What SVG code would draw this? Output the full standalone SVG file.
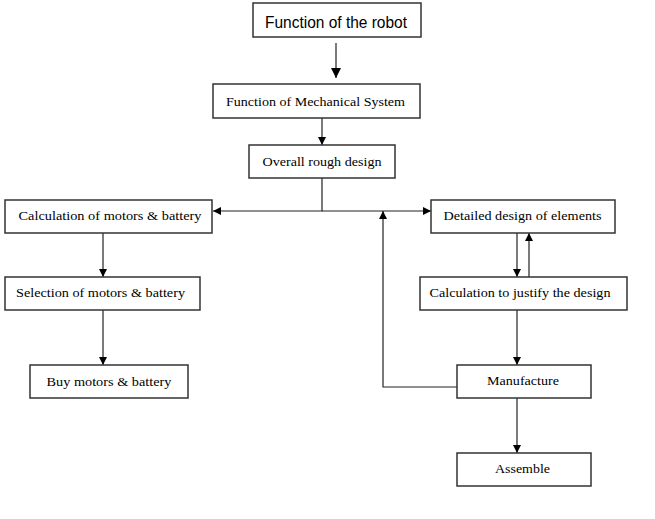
<svg xmlns="http://www.w3.org/2000/svg" width="655" height="519" viewBox="0 0 655 519">
<defs>
<marker id="ah" viewBox="0 0 10 10" refX="10" refY="5" markerWidth="8" markerHeight="8" markerUnits="userSpaceOnUse" orient="auto">
<path d="M0,0 L10,5 L0,10 z" fill="#000"/>
</marker>
<marker id="ahL" viewBox="0 0 10 10" refX="10" refY="5" markerWidth="10" markerHeight="10" markerUnits="userSpaceOnUse" orient="auto">
<path d="M0,0 L10,5 L0,10 z" fill="#000"/>
</marker>
</defs>
<style>
.box{fill:#fff;stroke:#333;stroke-width:1.5}
.t{font-family:"Liberation Serif","Times New Roman",serif;font-size:13px;fill:#000;text-anchor:middle}
.ts{font-family:"Liberation Sans",Arial,sans-serif;font-size:16px;fill:#000;text-anchor:middle}
.c{fill:none;stroke:#222;stroke-width:1.2}
</style>
<rect width="655" height="519" fill="#fff"/>
<g id="connectors">
<line class="c" x1="336" y1="43" x2="336" y2="78" marker-end="url(#ahL)"/>
<line class="c" x1="322" y1="118" x2="322" y2="145" marker-end="url(#ah)"/>
<polyline class="c" points="322,178 322,211 213,211" marker-end="url(#ah)"/>
<line class="c" x1="322" y1="211" x2="431" y2="211" marker-end="url(#ah)"/>
<line class="c" x1="103" y1="233" x2="103" y2="277" marker-end="url(#ah)"/>
<line class="c" x1="103" y1="310" x2="103" y2="365" marker-end="url(#ah)"/>
<line class="c" x1="517" y1="233" x2="517" y2="277" marker-end="url(#ah)"/>
<line class="c" x1="529" y1="277" x2="529" y2="233" marker-end="url(#ah)"/>
<line class="c" x1="517" y1="310" x2="517" y2="365" marker-end="url(#ah)"/>
<polyline class="c" points="457,387 383,387 383,211" marker-end="url(#ah)"/>
<line class="c" x1="517" y1="398" x2="517" y2="453" marker-end="url(#ah)"/>
</g>
<g id="n1"><rect class="box" x="253" y="3" width="168" height="34"/><text class="ts" x="336" y="28" textLength="142" lengthAdjust="spacingAndGlyphs">Function of the robot</text></g>
<g id="n2"><rect class="box" x="213" y="84" width="207" height="34"/><text class="t" x="315.5" y="106" textLength="179" lengthAdjust="spacingAndGlyphs">Function of Mechanical System</text></g>
<g id="n3"><rect class="box" x="249" y="145" width="146" height="33"/><text class="t" x="322" y="166" textLength="119" lengthAdjust="spacingAndGlyphs">Overall rough design</text></g>
<g id="n4"><rect class="box" x="5" y="200" width="207" height="33"/><text class="t" x="110" y="220" textLength="183" lengthAdjust="spacingAndGlyphs">Calculation of motors &amp; battery</text></g>
<g id="n5"><rect class="box" x="5" y="277" width="195" height="33"/><text class="t" x="100.5" y="297" textLength="169" lengthAdjust="spacingAndGlyphs">Selection of motors &amp; battery</text></g>
<g id="n6"><rect class="box" x="30" y="365" width="158" height="33"/><text class="t" x="109" y="386" textLength="125" lengthAdjust="spacingAndGlyphs">Buy motors &amp; battery</text></g>
<g id="n7"><rect class="box" x="431" y="200" width="184" height="33"/><text class="t" x="522.5" y="220" textLength="158" lengthAdjust="spacingAndGlyphs">Detailed design of elements</text></g>
<g id="n8"><rect class="box" x="420" y="277" width="207" height="33"/><text class="t" x="520" y="297" textLength="181" lengthAdjust="spacingAndGlyphs">Calculation to justify the design</text></g>
<g id="n9"><rect class="box" x="457" y="365" width="134" height="33"/><text class="t" x="523" y="385" textLength="72" lengthAdjust="spacingAndGlyphs">Manufacture</text></g>
<g id="n10"><rect class="box" x="457" y="453" width="134" height="33"/><text class="t" x="522.5" y="473" textLength="55" lengthAdjust="spacingAndGlyphs">Assemble</text></g>
</svg>
